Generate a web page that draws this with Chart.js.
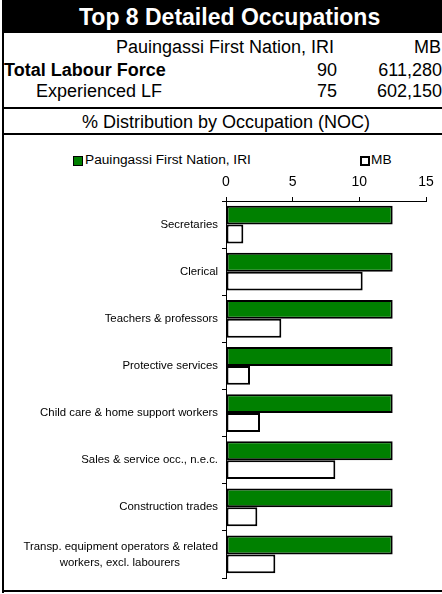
<!DOCTYPE html>
<html>
<head>
<meta charset="utf-8">
<script src="https://cdn.jsdelivr.net/npm/chart.js@4"></script>
<style>
  html, body { margin:0; padding:0; background:#fff; }
  body { width:442px; height:594px; position:relative; overflow:hidden; font-family:"Liberation Sans", Arial, sans-serif; color:#000; }
  .abs { position:absolute; white-space:nowrap; }
  #title { left:2px; top:0; width:440px; height:33px; background:#000; }
  #title span { position:absolute; left:77px; top:0; line-height:35px; font-size:23px; font-weight:bold; color:#fff; }
  .row { font-size:18px; line-height:22px; }
  .hline { position:absolute; left:2px; width:440px; height:2px; background:#000; }
  #vline { position:absolute; left:2px; top:0; width:2px; height:593px; background:#000; }
  #chartWrap { position:absolute; left:4px; top:135px; width:438px; height:455px; }
  .lg { position:absolute; font-size:13.7px; line-height:16px; top:152px; }
  .box { position:absolute; box-sizing:border-box; width:10px; height:10px; top:156px; }
</style>
</head>
<body>
<div id="vline"></div>
<div id="title" class="abs"><span>Top 8 Detailed Occupations</span></div>

<div class="abs row" id="hdrArea" style="right:108px; top:36px;">Pauingassi First Nation, IRI</div>
<div class="abs row" id="hdrMB" style="right:1px; top:36px;">MB</div>

<div class="abs row" style="left:4px; top:59px; font-weight:bold;">Total Labour Force</div>
<div class="abs row" id="tlfA" style="right:105px; top:59px;"></div>
<div class="abs row" id="tlfB" style="right:0px; top:59px;"></div>

<div class="abs row" style="left:36px; top:80px;">Experienced LF</div>
<div class="abs row" id="elfA" style="right:105px; top:80px;"></div>
<div class="abs row" id="elfB" style="right:0px; top:80px;"></div>

<div class="hline" style="top:107px;"></div>
<div class="abs row" style="left:82px; top:111px;">% Distribution by Occupation (NOC)</div>
<div class="hline" style="top:133px;"></div>
<div class="hline" style="top:590px;"></div>

<div class="box" style="left:73px; background:#008000; border:1px solid #000;"></div>
<div class="lg" id="lgA" style="left:85px;"></div>
<div class="box" style="left:360px; background:#fff; border:2px solid #000;"></div>
<div class="lg" id="lgB" style="left:371px;"></div>

<div id="chartWrap"><canvas id="c"></canvas></div>

<script>
// ---- Data ----
const seriesNames = ['Pauingassi First Nation, IRI', 'MB'];
const totalLabourForce = [90, 611280];
const experiencedLF = [75, 602150];
const categories = [
  'Secretaries',
  'Clerical',
  'Teachers & professors',
  'Protective services',
  'Child care & home support workers',
  'Sales & service occ., n.e.c.',
  'Construction trades',
  ['Transp. equipment operators & related', 'workers, excl. labourers']
];
const communityValues = [12.5, 12.5, 12.5, 12.5, 12.5, 12.5, 12.5, 12.5];
const mbValues = [1.3, 10.25, 4.15, 1.8, 2.55, 8.2, 2.35, 3.7];
const xTicks = [0, 5, 10, 15];

// ---- Header texts ----
const fmt = n => n.toLocaleString('en-US');
document.getElementById('tlfA').textContent = fmt(totalLabourForce[0]);
document.getElementById('tlfB').textContent = fmt(totalLabourForce[1]);
document.getElementById('elfA').textContent = fmt(experiencedLF[0]);
document.getElementById('elfB').textContent = fmt(experiencedLF[1]);
document.getElementById('lgA').textContent = seriesNames[0];
document.getElementById('lgB').textContent = seriesNames[1];

const yFont = { family: '"Liberation Sans", Arial, sans-serif', size: 11.4, lineHeight: 1.4 };
const measureCtx = document.createElement('canvas').getContext('2d');
measureCtx.font = yFont.size + 'px ' + yFont.family;
function centerLines(lbl) {
  if (!Array.isArray(lbl)) return lbl;
  const widths = lbl.map(s => measureCtx.measureText(s).width);
  const maxW = Math.max(...widths);
  const sp = measureCtx.measureText('\u00A0').width;
  return lbl.map((s, i) => s + '\u00A0'.repeat(Math.round((maxW - widths[i]) / 2 / sp)));
}

new Chart(document.getElementById('c'), {
  type: 'bar',
  data: {
    labels: categories,
    datasets: [
      { label: seriesNames[0], data: communityValues, backgroundColor: '#008000', borderColor: '#000', borderWidth: 2, borderSkipped: false },
      { label: seriesNames[1], data: mbValues, backgroundColor: '#ffffff', borderColor: '#000', borderWidth: 2, borderSkipped: false }
    ]
  },
  options: {
    indexAxis: 'y',
    responsive: true,
    maintainAspectRatio: false,
    animation: false,
    devicePixelRatio: 1,
    layout: { padding: { left: 0, right: 16, top: 0, bottom: 9 } },
    datasets: { bar: { categoryPercentage: 0.8, barPercentage: 1.0 } },
    plugins: { legend: { display: false }, tooltip: { enabled: false } },
    scales: {
      x: {
        position: 'top',
        min: 0, max: 15,
        afterBuildTicks: s => { s.ticks = xTicks.map(v => ({ value: v })); },
        afterFit: s => { s.height = 66; },
        ticks: { color: '#000', padding: 6, font: { family: '"Liberation Sans", Arial, sans-serif', size: 14 } },
        grid: { drawOnChartArea: false, drawTicks: true, tickLength: 4, color: '#000' },
        border: { display: true, color: '#000', width: 1 }
      },
      y: {
        afterFit: s => { s.width = 222; },
        ticks: {
          color: '#000', padding: 4, font: yFont,
          callback: function (v, i) { return centerLines(categories[i]); }
        },
        grid: { drawOnChartArea: false, drawTicks: true, tickLength: 4, color: '#000', offset: true },
        border: { display: true, color: '#000', width: 1 }
      }
    }
  }
});
</script>
</body>
</html>
